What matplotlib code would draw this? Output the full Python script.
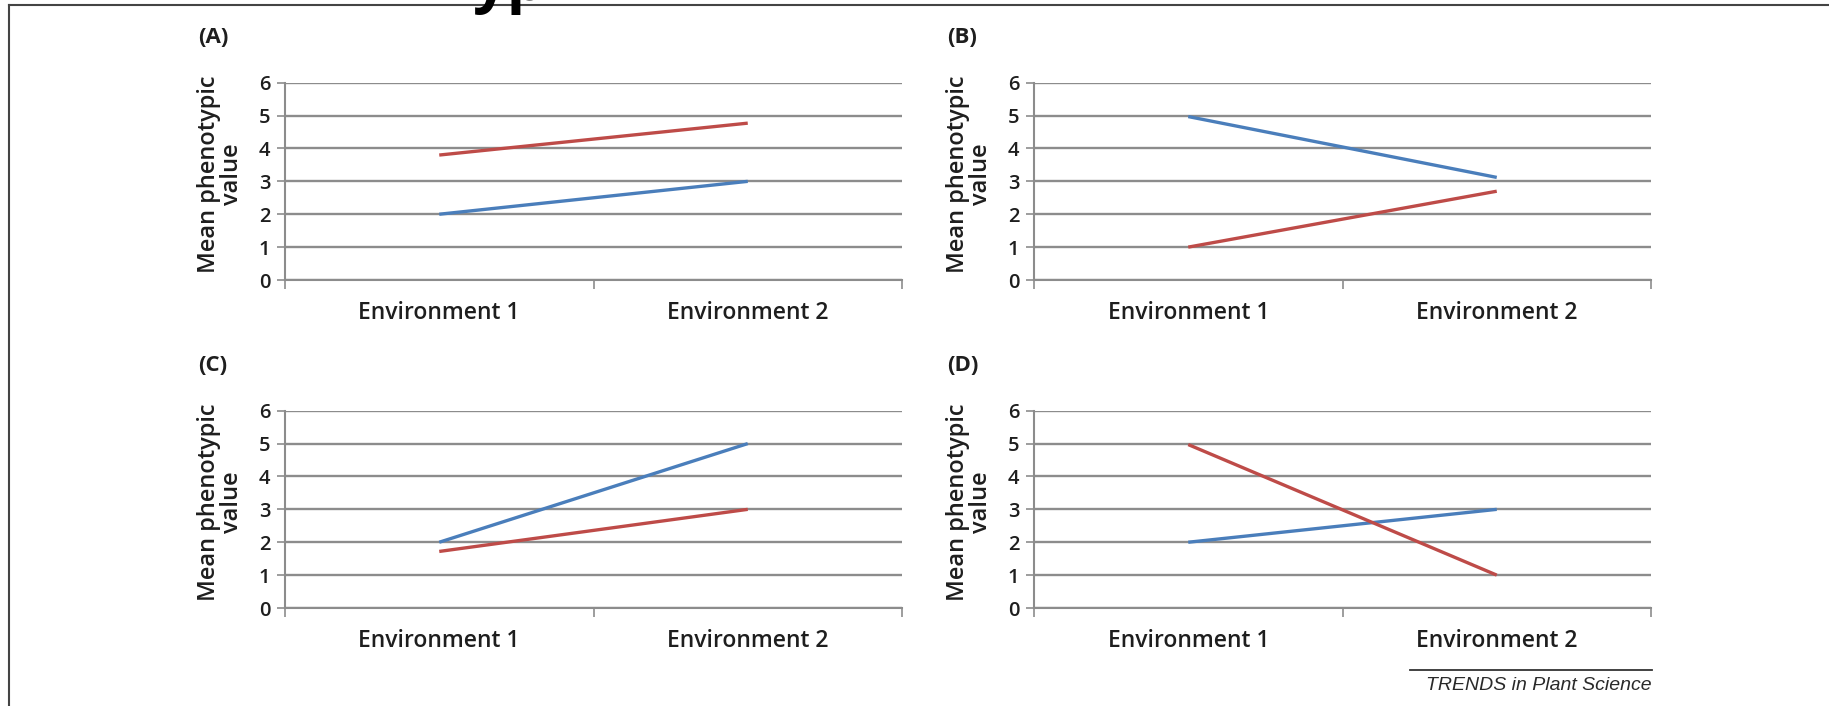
import numpy as np
import matplotlib
matplotlib.use("Agg")
import matplotlib.pyplot as plt
from matplotlib.lines import Line2D

# data
environments = ["Environment 1", "Environment 2"]
panel_labels = ["(A)", "(B)", "(C)", "(D)"]
blue_values = [[2.0, 3.0], [4.97, 3.12], [2.0, 5.0], [2.0, 3.0]]
red_values = [[3.8, 4.77], [1.0, 2.7], [1.72, 3.0], [4.97, 1.0]]
y_ticks = [0, 1, 2, 3, 4, 5, 6]

BLUE = "#4A7EBB"
RED = "#BE4B48"
GRID = "#8C8C8C"
TEXT = "#1E1E1E"
FONT = ["Open Sans", "DejaVu Sans"]

plt.rcParams['font.family'] = FONT

W, H = 1829, 706
fig = plt.figure(figsize=(W / 100, H / 100), dpi=100)

# axes boxes in pixels: left, top
lefts = [285, 1034]
tops = [82.7, 410.7]
ax_w, ax_h = 617, 197.3

for i in range(4):
    r, c = divmod(i, 2)
    l = lefts[c] / W
    b = 1 - (tops[r] + ax_h) / H
    ax = fig.add_axes([l, b, ax_w / W, ax_h / H])
    x = np.arange(len(environments))
    ax.plot(x, blue_values[i], color=BLUE, lw=2.4, solid_capstyle='butt', zorder=3)
    ax.plot(x, red_values[i], color=RED, lw=2.4, solid_capstyle='butt', zorder=3)
    ax.set_xlim(-0.5, len(environments) - 0.5)
    ax.set_ylim(0, 6)
    ax.set_yticks(y_ticks, labels=[str(v) for v in y_ticks], fontsize=14.5,
                  fontweight='semibold', color=TEXT)
    ax.yaxis.grid(True, color=GRID, lw=1.7)
    ax.set_axisbelow(True)
    for sp in ["top", "right"]:
        ax.spines[sp].set_visible(False)
    for sp in ["left", "bottom"]:
        ax.spines[sp].set_color(GRID)
        ax.spines[sp].set_linewidth(1.5)
    # category boundaries carry the ticks, names sit on minor ticks
    ax.set_xticks(np.arange(-0.5, len(environments), 1.0))
    ax.set_xticklabels([])
    ax.set_xticks(x, minor=True)
    ax.set_xticklabels(environments, minor=True, fontsize=16.5, color=TEXT,
                       fontweight='semibold')
    ax.tick_params(axis='x', which='major', length=6.5, width=1.2, color=GRID)
    ax.tick_params(axis='x', which='minor', length=0, pad=15)
    ax.tick_params(axis='y', length=5.5, width=1.2, color=GRID, pad=5)
    ax.text(-0.105, 0.535, "Mean phenotypic\nvalue", transform=ax.transAxes,
            rotation=90, ha='center', va='center', multialignment='center',
            fontsize=17, color=TEXT, linespacing=0.95, fontweight='semibold')
    ax.text(-0.141, 1.229, panel_labels[i], transform=ax.transAxes,
            ha='left', va='center', fontsize=16, fontweight='bold', color=TEXT)

# journal footer
fig.add_artist(Line2D([1410 / W, 1652 / W], [1 - 670 / H, 1 - 670 / H],
                      color="#333333", lw=1.3))
fig.text(1652 / W, 1 - 685 / H, "TRENDS in Plant Science", ha='right', va='center',
         fontsize=14, style='italic', family=["Liberation Sans", "DejaVu Sans"],
         color="#2A2A2A")

# page frame and the cut-off title above it
fig.add_artist(Line2D([9 / W, 1], [1 - 4.5 / H, 1 - 4.5 / H], color="#444444", lw=1.5))
fig.add_artist(Line2D([9 / W, 9 / W], [0, 1 - 4.5 / H], color="#444444", lw=1.5))
fig.text(473 / W, 1.0, "yp", ha='left', va='baseline', fontsize=44,
         fontweight='bold', color="black")

fig.savefig("out.png", dpi=100)
